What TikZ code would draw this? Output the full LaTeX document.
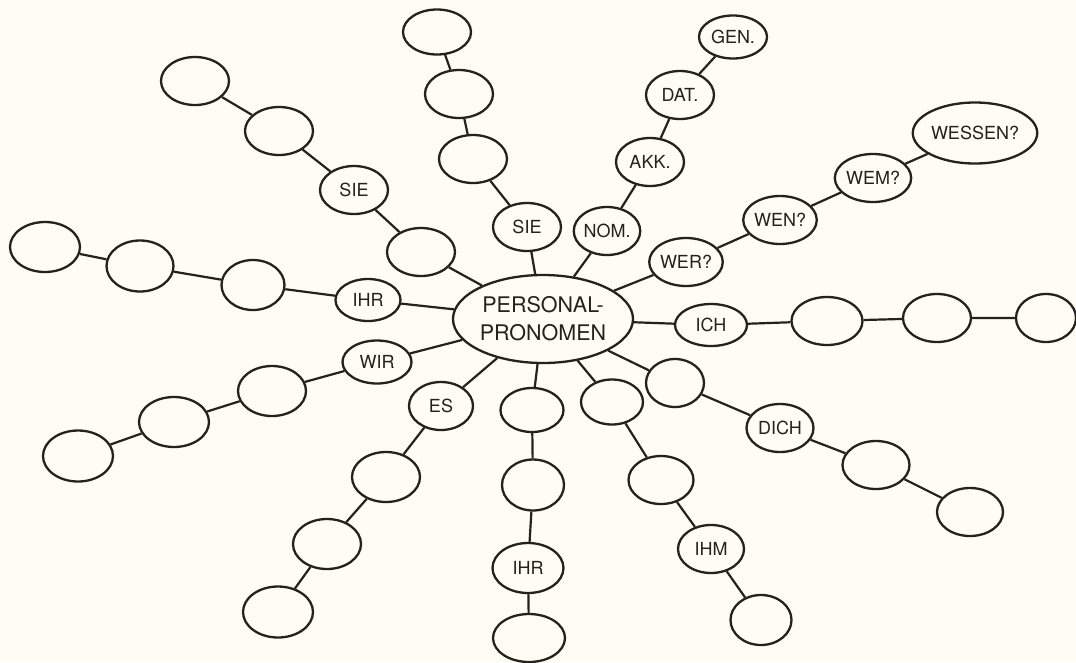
\documentclass[tikz,border=0pt]{standalone}
\usepackage{fontspec}
\setmainfont{TeX Gyre Heros}
\usetikzlibrary{shapes.geometric}
\definecolor{paper}{RGB}{254,253,243}
\definecolor{ink}{RGB}{36,34,28}
\tikzset{
  blob/.style={ellipse, draw=ink, line width=2.3pt, inner sep=0pt,
    minimum width=68pt, minimum height=48pt, text=ink,
    font=\fontsize{18}{21}\selectfont},
  hub/.style={blob, minimum width=180pt, minimum height=88pt, align=center,
    font=\fontsize{21.5}{28}\selectfont},
  wire/.style={draw=ink, line width=2.2pt}
}
\begin{document}
\begin{tikzpicture}[x=1pt,y=-1pt]
            \fill[paper] (0,0) rectangle (1076,662);
            \useasboundingbox (0,0) rectangle (1076,662);
            \node[hub] (pp) at (543,319) {PERSONAL-\\PRONOMEN};
            \node[blob] (sieA) at (421,252) {};
            \node[blob] (sieB) at (354,190) {SIE};
            \node[blob] (sieC) at (279,131) {};
            \node[blob] (sieD) at (195,81) {};
            \node[blob] (sieE) at (527,227) {SIE};
            \node[blob] (topA) at (473,159) {};
            \node[blob] (topB) at (459,94) {};
            \node[blob, minimum height=45pt] (topC) at (437,32) {};
            \node[blob, minimum width=63pt] (nom) at (607,231) {NOM.};
            \node[blob] (akk) at (650,162) {AKK.};
            \node[blob] (dat) at (680,95) {DAT.};
            \node[blob, minimum height=43pt] (gen) at (733,37) {GEN.};
            \node[blob, minimum width=65pt] (wer) at (686,262) {WER?};
            \node[blob, minimum width=70pt] (wen) at (780,220) {WEN?};
            \node[blob, minimum width=71pt] (wem) at (873,178) {WEM?};
            \node[blob, minimum width=100pt, minimum height=61pt] (wessen) at (975,133) {WESSEN?};
            \node[blob, minimum width=72pt, minimum height=42pt] (ich) at (711,325) {ICH};
            \node[blob, minimum width=71pt] (ichA) at (827,321) {};
            \node[blob] (ichB) at (937,318) {};
            \node[blob, minimum width=60pt] (ichC) at (1046,318) {};
            \node[blob, minimum width=58pt] (dichA) at (675,383) {};
            \node[blob, minimum width=67pt] (dich) at (780,428) {DICH};
            \node[blob, minimum width=67pt] (dichB) at (876,465) {};
            \node[blob, minimum width=66pt] (dichC) at (970,512) {};
            \node[blob, minimum width=62pt, minimum height=45pt] (ihmA) at (612,402) {};
            \node[blob, minimum width=65pt] (ihmB) at (661,480) {};
            \node[blob, minimum width=66pt] (ihm) at (711,549) {IHM};
            \node[blob, minimum width=61pt, minimum height=50pt] (ihmC) at (761,620) {};
            \node[blob, minimum width=63pt, minimum height=44pt] (ihrA) at (532,410) {};
            \node[blob, minimum width=62pt, minimum height=51pt] (ihrB) at (533,485) {};
            \node[blob, minimum width=71pt, minimum height=50pt] (ihrS) at (528,568) {IHR};
            \node[blob, minimum width=72pt] (ihrC) at (529,638) {};
            \node[blob, minimum width=64pt] (es) at (441,406) {ES};
            \node[blob, minimum height=50pt] (esA) at (386,477) {};
            \node[blob, minimum height=50pt] (esB) at (327,544) {};
            \node[blob, minimum width=70pt, minimum height=51pt] (esC) at (278,612) {};
            \node[blob, minimum width=69pt, minimum height=43pt] (wir) at (377,362) {WIR};
            \node[blob, minimum height=50pt] (wirA) at (272,391) {};
            \node[blob, minimum width=70pt, minimum height=50pt] (wirB) at (174,422) {};
            \node[blob, minimum width=70pt, minimum height=51pt] (wirC) at (78,456) {};
            \node[blob, minimum width=65pt, minimum height=42pt] (ihr) at (368,300) {IHR};
            \node[blob, minimum width=63pt, minimum height=50pt] (ihrD) at (253,285) {};
            \node[blob, minimum width=67pt, minimum height=51pt] (ihrE) at (140,266) {};
            \node[blob, minimum width=70pt, minimum height=50pt] (ihrF) at (45,247) {};
            \draw[wire] (pp) -- (sieA) -- (sieB) -- (sieC) -- (sieD);
            \draw[wire] (pp) -- (sieE) -- (topA) -- (topB) -- (topC);
            \draw[wire] (pp) -- (nom) -- (akk) -- (dat) -- (gen);
            \draw[wire] (pp) -- (wer) -- (wen) -- (wem) -- (wessen);
            \draw[wire] (pp) -- (ich) -- (ichA) -- (ichB) -- (ichC);
            \draw[wire] (pp) -- (dichA) -- (dich) -- (dichB) -- (dichC);
            \draw[wire] (pp) -- (ihmA) -- (ihmB) -- (ihm) -- (ihmC);
            \draw[wire] (pp) -- (ihrA) -- (ihrB) -- (ihrS) -- (ihrC);
            \draw[wire] (pp) -- (es) -- (esA) -- (esB) -- (esC);
            \draw[wire] (pp) -- (wir) -- (wirA) -- (wirB) -- (wirC);
            \draw[wire] (pp) -- (ihr) -- (ihrD) -- (ihrE) -- (ihrF);
        \end{tikzpicture}
\end{document}
